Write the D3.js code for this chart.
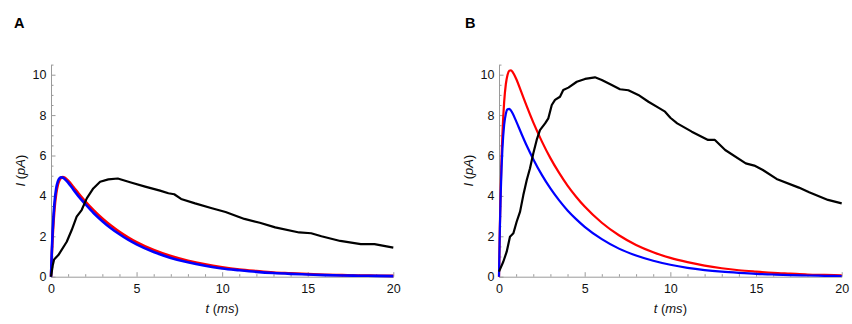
<!DOCTYPE html>
<html><head><meta charset="utf-8">
<script src="https://cdn.jsdelivr.net/npm/d3@7"></script>
<style>body{margin:0;background:#fff}svg text{font-family:"Liberation Sans",Arial,sans-serif}</style>
</head><body><svg id="c" width="852" height="324"></svg>
<script>
// ---- data ----
const tSmooth = [0,0.05,0.1,0.15,0.2,0.3,0.4,0.5,0.6,0.7,0.8,1.0,1.3,1.6,2,2.5,3,3.5,4,4.5,5,6,7,8,9,10,11,12,13,14,15,16,17,18,19,20];
const redA  = [0,1.14,2.05,2.76,3.33,4.10,4.55,4.79,4.90,4.93,4.90,4.75,4.45,4.13,3.73,3.28,2.88,2.53,2.22,1.95,1.71,1.32,1.02,0.79,0.61,0.47,0.36,0.28,0.21,0.17,0.13,0.10,0.08,0.06,0.05,0.04];
const blueA = [0,1.31,2.31,3.06,3.63,4.36,4.72,4.88,4.92,4.90,4.84,4.66,4.32,3.99,3.60,3.14,2.75,2.40,2.10,1.83,1.60,1.22,0.93,0.71,0.54,0.41,0.32,0.24,0.18,0.14,0.11,0.08,0.06,0.05,0.04,0.03];
const redB  = [0,2.46,4.39,5.89,7.06,8.64,9.54,10.00,10.20,10.22,10.13,9.80,9.15,8.48,7.64,6.70,5.87,5.15,4.51,3.96,3.47,2.67,2.05,1.57,1.21,0.93,0.72,0.55,0.42,0.32,0.25,0.19,0.15,0.11,0.087,0.067];
const blueB = [0,2.35,4.10,5.39,6.34,7.51,8.07,8.29,8.31,8.22,8.08,7.70,7.10,6.52,5.82,5.04,4.37,3.79,3.28,2.85,2.47,1.86,1.39,1.05,0.79,0.59,0.44,0.33,0.25,0.19,0.14,0.11,0.08,0.06,0.045,0.034];
const blackA_t = [0,0.1,0.18,0.43,0.92,1.21,1.5,1.79,2.09,2.47,2.87,3.35,3.9,4.72,5.5,6.37,6.86,7.2,7.6,8.42,9.4,10.2,11.3,12.2,13.1,14.5,15.2,15.8,16.9,18.1,18.9,20];
const blackA_v = [0,0.55,0.85,1.07,1.73,2.31,2.97,3.3,3.88,4.37,4.7,4.82,4.86,4.65,4.46,4.26,4.13,4.08,3.85,3.63,3.39,3.2,2.86,2.67,2.44,2.19,2.15,2.0,1.77,1.61,1.61,1.44];
const blackB_t = [0,0.25,0.45,0.64,0.84,1.03,1.23,1.42,1.62,1.81,2.0,2.2,2.39,2.69,2.88,3.08,3.27,3.56,3.75,4.05,4.54,5.02,5.6,6.0,6.58,7.06,7.55,8.13,8.72,9.3,9.69,10.0,10.4,11.25,12.2,12.6,13.2,14.4,14.9,15.4,16.2,17.5,18.1,19.2,20];
const blackB_v = [0.25,0.74,1.24,1.98,2.15,2.72,3.22,4.04,4.79,5.37,6.1,6.77,7.26,7.59,7.84,8.5,8.75,8.91,9.24,9.36,9.65,9.79,9.87,9.74,9.49,9.28,9.23,9.0,8.66,8.37,8.17,7.87,7.59,7.18,6.77,6.77,6.27,5.61,5.5,5.28,4.84,4.41,4.18,3.8,3.63];
const xTicks = [0,5,10,15,20];
const yTicks = [0,2,4,6,8,10];
const panelLetters = ["A","B"];

// ---- layout ----
const svg = d3.select("#c");
const axisColor = "#9a9a9a";
const panels = [
  {letter: panelLetters[0], lx: 14, x0: 51, x1: 393.3, red: redA, blue: blueA, bt: blackA_t, bv: blackA_v, w: 2.6},
  {letter: panelLetters[1], lx: 465, x0: 499, x1: 841.7, red: redB, blue: blueB, bt: blackB_t, bv: blackB_v, w: 2.2}
];
const yBottom = 276.7, yTop = 64.6;

panels.forEach(p => {
  const g = svg.append("g");
  const x = d3.scaleLinear().domain([0,20]).range([p.x0, p.x1]);
  const y = d3.scaleLinear().domain([0,10.5]).range([yBottom, yTop]);

  // minor ticks
  const xMinor = d3.range(0,21,1).filter(v => v % 5 !== 0);
  const yMinor = d3.range(0,10.51,0.5).filter(v => v % 2 !== 0);
  g.append("g").attr("transform",`translate(0,${yBottom})`)
    .call(d3.axisBottom(x).tickValues(xMinor).tickSize(-2.5).tickSizeOuter(0).tickFormat(""))
    .call(s => s.select(".domain").remove())
    .call(s => s.selectAll("line").attr("stroke", axisColor));
  g.append("g").attr("transform",`translate(${p.x0},0)`)
    .call(d3.axisLeft(y).tickValues(yMinor).tickSize(-2.5).tickSizeOuter(0).tickFormat(""))
    .call(s => s.select(".domain").remove())
    .call(s => s.selectAll("line").attr("stroke", axisColor));

  // major axes
  const gx = g.append("g").attr("transform",`translate(0,${yBottom})`)
    .call(d3.axisBottom(x).tickValues(xTicks).tickSize(-4.5).tickSizeOuter(0).tickPadding(7).tickFormat(d3.format("d")));
  const gy = g.append("g").attr("transform",`translate(${p.x0},0)`)
    .call(d3.axisLeft(y).tickValues(yTicks).tickSize(-4.5).tickSizeOuter(0).tickPadding(4.5).tickFormat(d3.format("d")));
  [gx, gy].forEach(a => {
    a.select(".domain").attr("stroke", axisColor).attr("stroke-width", 1);
    a.selectAll("line").attr("stroke", axisColor);
    a.selectAll("text").attr("font-size", 12.5).attr("fill", "#111");
  });

  // curves
  const smooth = d3.line().x((d,i) => x(tSmooth[i])).y(d => y(d)).curve(d3.curveMonotoneX);
  g.append("path").attr("d", smooth(p.red)).attr("fill","none").attr("stroke","#ff0000").attr("stroke-width", p.w);
  g.append("path").attr("d", smooth(p.blue)).attr("fill","none").attr("stroke","#0000ff").attr("stroke-width", p.w);
  const blk = d3.line().x(d => x(d[0])).y(d => y(d[1])).curve(d3.curveLinear);
  g.append("path").attr("d", blk(d3.zip(p.bt, p.bv))).attr("fill","none").attr("stroke","#000").attr("stroke-width", 2.2).attr("stroke-linejoin","round");

  // labels
  g.append("text").attr("x", p.lx).attr("y", 28).attr("font-size", 14.5).attr("font-weight", "bold").text(p.letter);
  const xl = g.append("text").attr("x", (p.x0 + p.x1)/2).attr("y", 313).attr("text-anchor","middle").attr("font-size", 13).attr("fill","#111");
  xl.append("tspan").attr("font-style","italic").text("t");
  xl.append("tspan").text(" (");
  xl.append("tspan").attr("font-style","italic").text("ms");
  xl.append("tspan").text(")");
  const yl = g.append("text").attr("transform", `translate(${p.x0 - 26},${(yBottom + yTop)/2}) rotate(-90)`).attr("text-anchor","middle").attr("font-size", 13).attr("fill","#111");
  yl.append("tspan").attr("font-style","italic").text("I");
  yl.append("tspan").text(" (");
  yl.append("tspan").attr("font-style","italic").text("pA");
  yl.append("tspan").text(")");
});
</script></body></html>
